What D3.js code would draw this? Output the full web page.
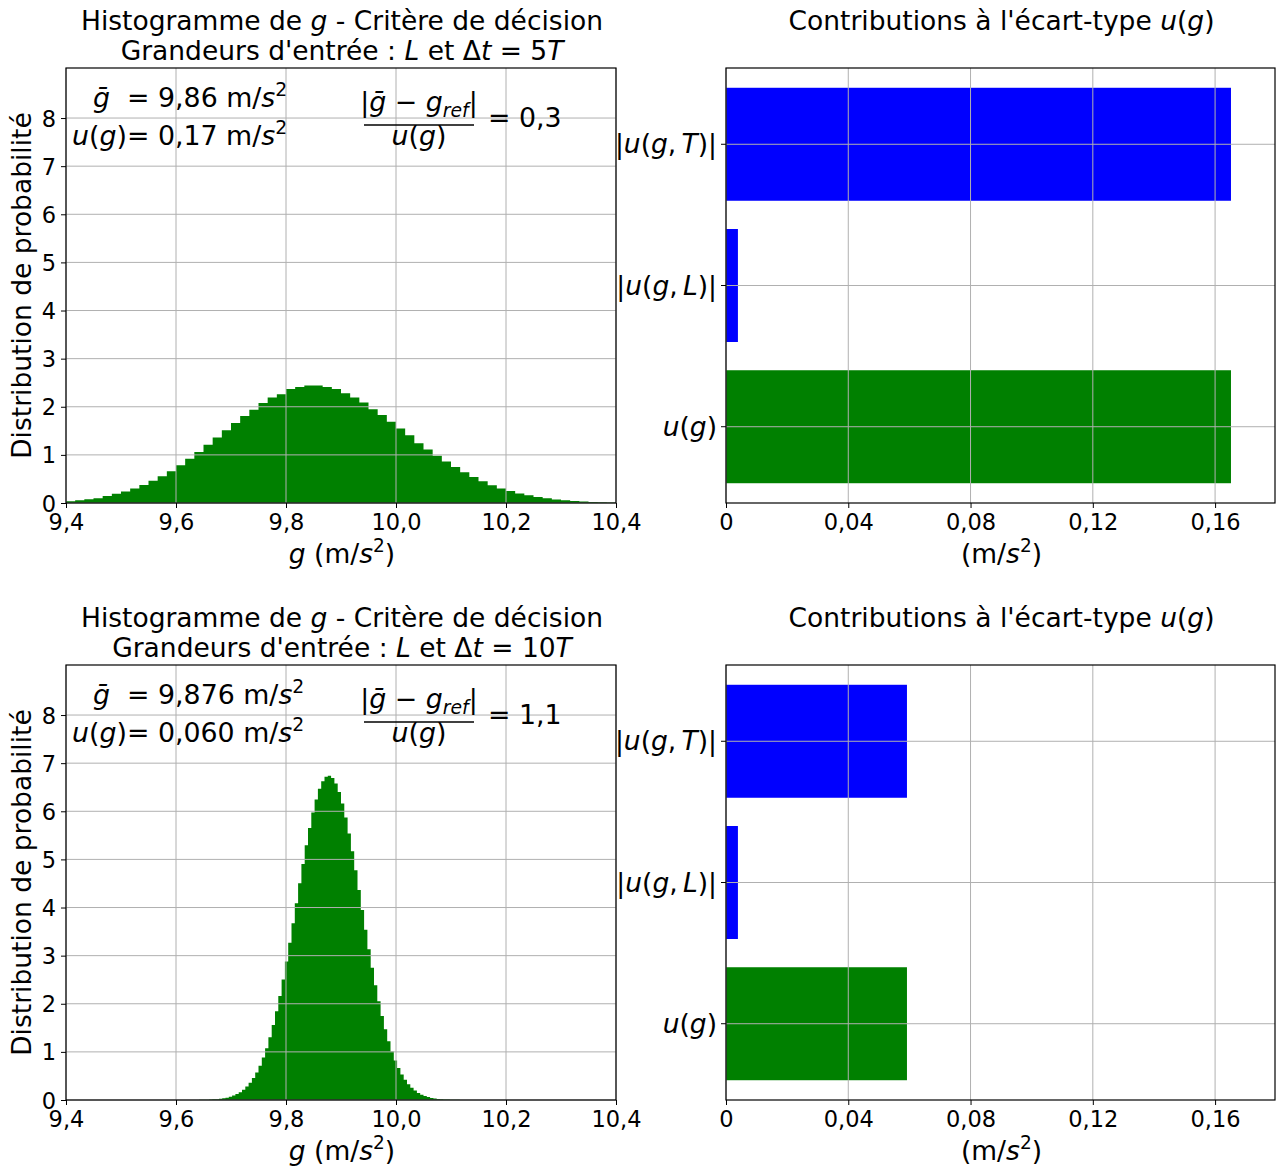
<!DOCTYPE html>
<html><head><meta charset="utf-8">
<script src="https://cdn.jsdelivr.net/npm/d3@7"></script>
<style>
body{margin:0;background:#fff}
text{font-family:"DejaVu Sans",sans-serif;fill:#000;white-space:pre}
</style>
</head><body>
<svg id="c" width="1276" height="1169"></svg>
<script>
// ---------------- DATA ----------------
// Histogram (top panel, Δt = 5T): bin heights, 60 bins from 9.4 with width 1/60
const histTopStart = 9.4;
const histTopWidth = 1 / 60;
const histTop = [0.035,0.056,0.076,0.10,0.146,0.19,0.24,0.30,0.375,0.46,0.555,0.66,0.785,0.92,1.06,
  1.21,1.36,1.51,1.66,1.81,1.94,2.08,2.19,2.26,2.37,2.41,2.44,2.44,2.41,2.37,2.28,2.19,2.09,1.95,1.83,1.69,1.55,1.41,
  1.24,1.11,0.98,0.86,0.75,0.64,0.54,0.45,0.37,0.30,0.25,0.20,0.16,0.125,0.097,0.075,0.056,0.042,0.03,0.022,0.015,0.01];

// Histogram (bottom panel, Δt = 10T): 80 bins of width 0.006 from 9.642
const histBottomStart = 9.642;
const histBottomWidth = 0.006;
const histBottom = [0.003,0.004,0.006,0.009,0.013,0.018,0.026,0.036,0.049,0.068,0.092,0.123,0.163,0.214,0.278,0.357,
  0.455,0.573,0.714,0.882,1.077,1.302,1.558,1.844,2.160,2.506,2.876,3.268,3.674,4.088,4.502,4.907,5.294,5.652,5.973,
  6.247,6.466,6.624,6.716,6.74,6.693,6.578,6.400,6.161,5.871,5.537,5.168,4.774,4.365,3.950,3.537,3.135,2.750,2.387,
  2.052,1.745,1.469,1.223,1.008,0.823,0.665,0.531,0.420,0.329,0.255,0.195,0.148,0.111,0.083,0.061,0.044,0.032,0.023,
  0.016,0.011,0.008,0.005,0.004,0.003,0.002];

// Contributions (horizontal bars), top to bottom
const contribCategories = ["uT", "uL", "ug"];
const contribTop = [0.1652, 0.0039, 0.1652];
const contribBottom = [0.0592, 0.0039, 0.0592];
const contribColors = ["#0000ff", "#0000ff", "#008000"];

// Ticks
const histXTicks = [9.4, 9.6, 9.8, 10.0, 10.2, 10.4];
const histYTicks = [0, 1, 2, 3, 4, 5, 6, 7, 8];
const contribXTicks = [0, 0.04, 0.08, 0.12, 0.16];

// Annotations
const panelGbar = ["9,86", "9,876"];
const panelUg = ["0,17", "0,060"];
const panelCrit = ["0,3", "1,1"];
const panelDt = ["5", "10"];

// ---------------- LAYOUT ----------------
const svg = d3.select("#c");
const L = {x0: 66, x1: 616};
const R = {x0: 726, x1: 1275};
const PANEL_Y = [{y0: 68, y1: 503}, {y0: 665, y1: 1100}];
const histYMax = 9.04;
const contribXMax = 0.1796;
const FS = 26.5, AFS = 26.8, TFS = 22.5;
const GRID = "#b0b0b0";

const loc = d3.formatLocale({decimal: ",", thousands: " ", grouping: [3], currency: ["", ""]});
const fmt1 = loc.format(".1f"), fmt2 = loc.format(".2f");

function rich(g, x, y, segs, size, anchor) {
  const t = g.append("text").attr("x", x).attr("y", y).attr("font-size", size)
    .attr("text-anchor", anchor || "start");
  let shift = 0;
  segs.forEach(s => {
    const ts = t.append("tspan").text(s.t);
    let target = 0, fs = size;
    if (s.sup) { target = -0.42 * size; fs = size * 0.7; }
    if (s.sub) { target = 0.22 * size; fs = size * 0.7; }
    if (target !== shift) { ts.attr("dy", target - shift); shift = target; }
    ts.attr("font-size", fs);
    if (s.i) ts.attr("font-style", "italic");
  });
  return t;
}

const catLabels = {
  uT: [{t: "|"}, {t: "u", i: 1}, {t: "("}, {t: "g", i: 1}, {t: ",\u2009"}, {t: "T", i: 1}, {t: ")|"}],
  uL: [{t: "|"}, {t: "u", i: 1}, {t: "("}, {t: "g", i: 1}, {t: ",\u2009"}, {t: "L", i: 1}, {t: ")|"}],
  ug: [{t: "u", i: 1}, {t: "("}, {t: "g", i: 1}, {t: ")"}]
};

function drawPanel(p) {
  const {y0, y1} = PANEL_Y[p];
  const hist = p === 0 ? histTop : histBottom;
  const hStart = p === 0 ? histTopStart : histBottomStart;
  const hWidth = p === 0 ? histTopWidth : histBottomWidth;
  const contrib = p === 0 ? contribTop : contribBottom;

  // ---- Histogram panel ----
  const x = d3.scaleLinear().domain([9.4, 10.4]).range([L.x0, L.x1]);
  const y = d3.scaleLinear().domain([0, histYMax]).range([y1, y0]);
  const gL = svg.append("g");
  const clipId = "clip" + p;
  gL.append("clipPath").attr("id", clipId).append("rect")
    .attr("x", L.x0).attr("y", y0).attr("width", L.x1 - L.x0).attr("height", y1 - y0);

  const pts = hist.map((v, i) => ({e: hStart + i * hWidth, v}));
  pts.push({e: hStart + hist.length * hWidth, v: hist[hist.length - 1]});
  const area = d3.area().curve(d3.curveStepAfter)
    .x(d => x(d.e)).y0(y(0)).y1(d => y(d.v));
  gL.append("path").attr("clip-path", `url(#${clipId})`).attr("d", area(pts))
    .attr("fill", "#008000");

  // grid (drawn over bars)
  gL.selectAll(".gx").data(histXTicks).join("line")
    .attr("x1", d => x(d)).attr("x2", d => x(d)).attr("y1", y0).attr("y2", y1)
    .attr("stroke", GRID).attr("stroke-width", 1);
  gL.selectAll(".gy").data(histYTicks).join("line").attr("class", "gy")
    .attr("y1", d => y(d)).attr("y2", d => y(d)).attr("x1", L.x0).attr("x2", L.x1)
    .attr("stroke", GRID).attr("stroke-width", 1);

  const ax = gL.append("g").attr("transform", `translate(0,${y1})`)
    .call(d3.axisBottom(x).tickValues(histXTicks).tickSize(5).tickPadding(6).tickFormat(fmt1));
  const ay = gL.append("g").attr("transform", `translate(${L.x0},0)`)
    .call(d3.axisLeft(y).tickValues(histYTicks).tickSize(5).tickPadding(5).tickFormat(d => d));
  [ax, ay].forEach(a => {
    a.select(".domain").remove();
    a.selectAll("text").attr("font-size", TFS).attr("font-family", "DejaVu Sans");
    a.selectAll("line").attr("stroke", "#000").attr("stroke-width", 1);
  });
  ay.selectAll("text").attr("dy", "0.36em");
  gL.append("rect").attr("x", L.x0).attr("y", y0).attr("width", L.x1 - L.x0).attr("height", y1 - y0)
    .attr("fill", "none").attr("stroke", "#000").attr("stroke-width", 1.2);

  // titles
  const cx = (L.x0 + L.x1) / 2 + 1;
  rich(gL, cx, y0 - 38, [{t: "Histogramme de "}, {t: "g", i: 1}, {t: " - Critère de décision"}], FS, "middle");
  rich(gL, cx, y0 - 8, [{t: "Grandeurs d'entrée : "}, {t: "L", i: 1}, {t: " et Δ"}, {t: "t", i: 1},
    {t: " = " + panelDt[p]}, {t: "T", i: 1}], FS, "middle");
  rich(gL, cx, y1 + 60, [{t: "g", i: 1}, {t: " (m/"}, {t: "s", i: 1}, {t: "2", sup: 1}, {t: ")"}], FS, "middle");
  gL.append("text").attr("font-size", FS).attr("text-anchor", "middle")
    .attr("transform", `translate(31,${(y0 + y1) / 2}) rotate(-90)`).text("Distribution de probabilité");

  // annotations
  rich(gL, L.x0 + 27, y0 + 39, [{t: "ḡ", i: 1}, {t: "  = " + panelGbar[p] + " m/"}, {t: "s", i: 1}, {t: "2", sup: 1}], AFS);
  rich(gL, L.x0 + 6, y0 + 77, [{t: "u", i: 1}, {t: "("}, {t: "g", i: 1}, {t: ")= " + panelUg[p] + " m/"}, {t: "s", i: 1}, {t: "2", sup: 1}], AFS);
  rich(gL, L.x0 + 353, y0 + 43, [{t: "|"}, {t: "ḡ", i: 1}, {t: " − "}, {t: "g", i: 1}, {t: "ref", i: 1, sub: 1}, {t: "|"}], AFS, "middle");
  gL.append("line").attr("x1", L.x0 + 298).attr("x2", L.x0 + 408).attr("y1", y0 + 57).attr("y2", y0 + 57)
    .attr("stroke", "#000").attr("stroke-width", 1.3);
  rich(gL, L.x0 + 353, y0 + 77, [{t: "u", i: 1}, {t: "("}, {t: "g", i: 1}, {t: ")"}], AFS, "middle");
  rich(gL, L.x0 + 422, y0 + 59, [{t: "= " + panelCrit[p]}], AFS);

  // ---- Contribution panel ----
  const xr = d3.scaleLinear().domain([0, contribXMax]).range([R.x0, R.x1]);
  const yb = d3.scaleBand().domain(contribCategories).range([y0, y1]).paddingInner(0.2).paddingOuter(0.14);
  const gR = svg.append("g");
  gR.selectAll(".bar").data(contribCategories).join("rect")
    .attr("x", xr(0)).attr("y", d => yb(d))
    .attr("width", (d, i) => xr(contrib[i]) - xr(0)).attr("height", yb.bandwidth())
    .attr("fill", (d, i) => contribColors[i]);
  gR.selectAll(".gx").data(contribXTicks).join("line")
    .attr("x1", d => xr(d)).attr("x2", d => xr(d)).attr("y1", y0).attr("y2", y1)
    .attr("stroke", GRID).attr("stroke-width", 1);
  gR.selectAll(".gy").data(contribCategories).join("line").attr("class", "gy")
    .attr("y1", d => yb(d) + yb.bandwidth() / 2).attr("y2", d => yb(d) + yb.bandwidth() / 2)
    .attr("x1", R.x0).attr("x2", R.x1).attr("stroke", GRID).attr("stroke-width", 1);
  const axr = gR.append("g").attr("transform", `translate(0,${y1})`)
    .call(d3.axisBottom(xr).tickValues(contribXTicks).tickSize(5).tickPadding(6)
      .tickFormat(d => d === 0 ? "0" : fmt2(d)));
  const ayr = gR.append("g").attr("transform", `translate(${R.x0},0)`)
    .call(d3.axisLeft(yb).tickSize(5).tickFormat(""));
  [axr, ayr].forEach(a => {
    a.select(".domain").remove();
    a.selectAll("text").attr("font-size", TFS).attr("font-family", "DejaVu Sans");
    a.selectAll("line").attr("stroke", "#000").attr("stroke-width", 1);
  });
  contribCategories.forEach(c => {
    rich(gR, R.x0 - 9, yb(c) + yb.bandwidth() / 2 + 0.34 * FS, catLabels[c], FS, "end");
  });
  gR.append("rect").attr("x", R.x0).attr("y", y0).attr("width", R.x1 - R.x0).attr("height", y1 - y0)
    .attr("fill", "none").attr("stroke", "#000").attr("stroke-width", 1.2);
  const rcx = (R.x0 + R.x1) / 2 + 1;
  rich(gR, rcx, y0 - 38, [{t: "Contributions à l'écart-type "}, {t: "u", i: 1}, {t: "("}, {t: "g", i: 1}, {t: ")"}], FS, "middle");
  rich(gR, rcx, y1 + 60, [{t: "(m/"}, {t: "s", i: 1}, {t: "2", sup: 1}, {t: ")"}], FS, "middle");
}

drawPanel(0);
drawPanel(1);
</script>
</body></html>
